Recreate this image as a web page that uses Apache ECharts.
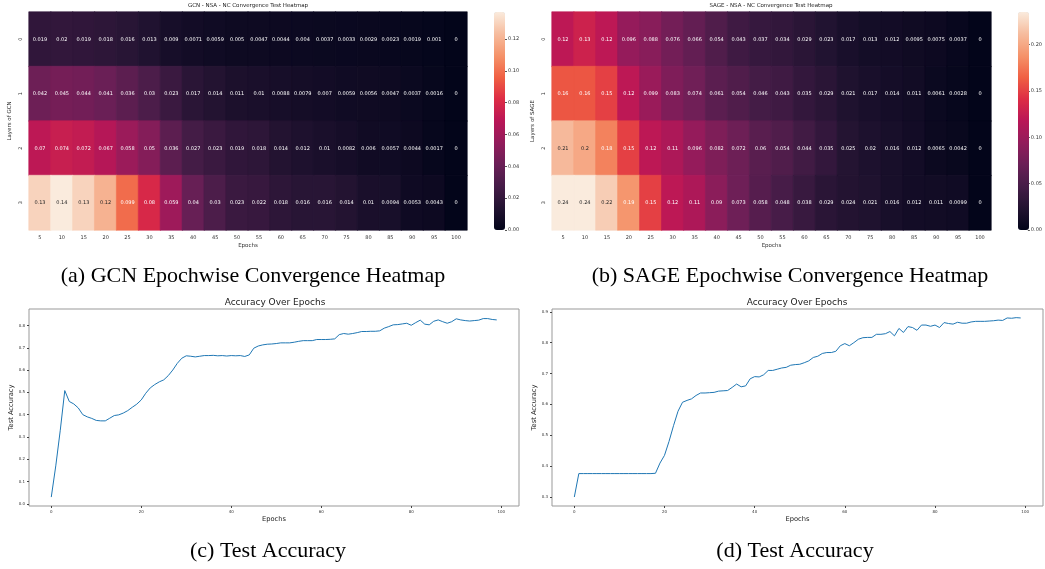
<!DOCTYPE html>
<html>
<head>
<meta charset="utf-8">
<script src="https://cdn.jsdelivr.net/npm/echarts@6/dist/echarts.min.js"></script>
<style>
  html, body { margin: 0; padding: 0; background: #fff; }
  #chart { width: 1045px; height: 569px; }
</style>
</head>
<body>
<div id="chart"></div>
<script>
// epochs on the heatmap x axis, layers on the y axis
const epochLabels = ['5','10','15','20','25','30','35','40','45','50','55','60','65','70','75','80','85','90','95','100'];
const layerLabels = ['0','1','2','3'];

// GCN convergence values, one row per layer
const gcnLayer0 = [0.019,0.02,0.019,0.018,0.016,0.013,0.009,0.0071,0.0059,0.005,0.0047,0.0044,0.004,0.0037,0.0033,0.0029,0.0023,0.0019,0.001,0];
const gcnLayer1 = [0.042,0.045,0.044,0.041,0.036,0.03,0.023,0.017,0.014,0.011,0.01,0.0088,0.0079,0.007,0.0059,0.0056,0.0047,0.0037,0.0016,0];
const gcnLayer2 = [0.07,0.074,0.072,0.067,0.058,0.05,0.036,0.027,0.023,0.019,0.018,0.014,0.012,0.01,0.0082,0.006,0.0057,0.0044,0.0017,0];
const gcnLayer3 = [0.13,0.14,0.13,0.12,0.099,0.08,0.059,0.04,0.03,0.023,0.022,0.018,0.016,0.016,0.014,0.01,0.0094,0.0053,0.0043,0];

// SAGE convergence values
const sageLayer0 = [0.12,0.13,0.12,0.096,0.088,0.076,0.066,0.054,0.043,0.037,0.034,0.029,0.023,0.017,0.013,0.012,0.0095,0.0075,0.0037,0];
const sageLayer1 = [0.16,0.16,0.15,0.12,0.099,0.083,0.074,0.061,0.054,0.046,0.043,0.035,0.029,0.021,0.017,0.014,0.011,0.0061,0.0028,0];
const sageLayer2 = [0.21,0.2,0.18,0.15,0.12,0.11,0.096,0.082,0.072,0.06,0.054,0.044,0.035,0.025,0.02,0.016,0.012,0.0065,0.0042,0];
const sageLayer3 = [0.24,0.24,0.22,0.19,0.15,0.12,0.11,0.09,0.073,0.058,0.048,0.038,0.029,0.024,0.021,0.016,0.012,0.011,0.0099,0];

// colour scale tops (colorbar)
const gcnMax = 0.137;
const sageMax = 0.235;
const gcnBarTicks = [0, 0.02, 0.04, 0.06, 0.08, 0.10, 0.12];
const sageBarTicks = [0, 0.05, 0.10, 0.15, 0.20];

// test accuracy per epoch (0..99)
const gcnAcc = [
  0.03,0.17,0.33,0.508,0.459,0.448,0.43,0.40,0.39,0.383,
  0.374,0.372,0.372,0.384,0.396,0.399,0.407,0.418,0.433,0.447,
  0.466,0.496,0.52,0.535,0.547,0.556,0.575,0.60,0.63,0.653,
  0.664,0.662,0.659,0.662,0.665,0.665,0.666,0.664,0.665,0.663,
  0.665,0.664,0.665,0.661,0.668,0.698,0.708,0.713,0.716,0.717,
  0.719,0.722,0.722,0.722,0.725,0.729,0.732,0.732,0.732,0.737,
  0.737,0.737,0.738,0.74,0.759,0.764,0.761,0.764,0.768,0.773,
  0.773,0.774,0.774,0.776,0.788,0.795,0.803,0.804,0.807,0.81,
  0.801,0.813,0.824,0.806,0.803,0.819,0.825,0.817,0.81,0.817,
  0.83,0.825,0.822,0.82,0.822,0.824,0.831,0.831,0.827,0.825
];
const sageAcc = [
  0.30,0.376,0.376,0.376,0.376,0.376,0.376,0.376,0.376,0.376,
  0.376,0.376,0.376,0.376,0.376,0.376,0.376,0.376,0.377,0.41,
  0.435,0.48,0.531,0.578,0.607,0.613,0.618,0.629,0.637,0.637,
  0.638,0.639,0.643,0.644,0.645,0.655,0.666,0.657,0.66,0.683,
  0.69,0.689,0.696,0.71,0.71,0.714,0.718,0.72,0.727,0.729,
  0.73,0.735,0.741,0.752,0.756,0.765,0.768,0.768,0.772,0.79,
  0.797,0.79,0.80,0.811,0.816,0.817,0.817,0.827,0.827,0.829,
  0.836,0.822,0.846,0.833,0.852,0.849,0.84,0.857,0.857,0.853,
  0.857,0.849,0.865,0.862,0.86,0.866,0.863,0.863,0.867,0.869,
  0.869,0.869,0.87,0.871,0.873,0.872,0.88,0.879,0.881,0.88
];
const accXTicks = [0, 20, 40, 60, 80, 100];
const gcnAccYTicks = [0, 0.1, 0.2, 0.3, 0.4, 0.5, 0.6, 0.7, 0.8];
const sageAccYTicks = [0.3, 0.4, 0.5, 0.6, 0.7, 0.8, 0.9];

const rocket = ['#03051a','#221331','#451c47','#6a1f56','#921c5b','#b91657','#dd2c45','#f06043','#f5936a','#f6bc9e','#faebdd'];

// each cell gets a border in its own colour so no seams show between cells
function cells(rows, vmax) {
  const out = [];
  rows.forEach((row, y) => {
    row.forEach((v, x) => {
      const t = Math.min(1, v / vmax);
      out.push({
        value: [x, y, v],
        itemStyle: { borderColor: echarts.color.lerp(t, rocket), borderWidth: 0.6 },
        label: { color: t > 0.83 ? '#262626' : '#ffffff' }
      });
    });
  });
  return out;
}

const font = 'DejaVu Sans';
const chart = echarts.init(document.getElementById('chart'));

function heatX(grid) {
  return {
    type: 'category', gridIndex: grid, data: epochLabels,
    name: 'Epochs', nameLocation: 'middle', nameGap: 13,
    nameTextStyle: { fontSize: 5.5, color: '#333' },
    axisLine: { show: false },
    axisTick: { show: false },
    axisLabel: { fontSize: 5, color: '#333', margin: 5 },
    splitLine: { show: false }
  };
}
function heatY(grid, name) {
  return {
    type: 'category', gridIndex: grid, data: layerLabels, inverse: true,
    name: name, nameLocation: 'middle', nameGap: 16, nameRotate: 90,
    nameTextStyle: { fontSize: 5.5, color: '#333' },
    axisLine: { show: false },
    axisTick: { show: false },
    axisLabel: { fontSize: 5, color: '#333', rotate: 90, margin: 6 },
    splitLine: { show: false }
  };
}
function barX(grid) {
  return { type: 'value', gridIndex: grid, show: false, min: 0, max: 1 };
}
function barY(grid, max, ticks) {
  return {
    type: 'value', gridIndex: grid, position: 'right', min: 0, max: max,
    axisLine: { show: false, onZero: false }, splitLine: { show: false },
    axisTick: { show: true, length: 2, customValues: ticks, lineStyle: { color: '#555' } },
    axisLabel: { fontSize: 5, color: '#333', margin: 3, customValues: ticks, formatter: v => v.toFixed(2) }
  };
}
function accX(grid) {
  return {
    type: 'value', gridIndex: grid, min: -4.95, max: 103.95,
    name: 'Epochs', nameLocation: 'middle', nameGap: 10,
    nameTextStyle: { fontSize: 6.7, color: '#222' },
    axisLine: { show: false, onZero: false }, splitLine: { show: false },
    axisTick: { show: true, length: 2, customValues: accXTicks, lineStyle: { color: '#444' } },
    axisLabel: { fontSize: 4, color: '#333', margin: 4, customValues: accXTicks }
  };
}
function accY(grid, min, max, ticks) {
  return {
    type: 'value', gridIndex: grid, min: min, max: max,
    name: 'Test Accuracy', nameLocation: 'middle', nameGap: 14, nameRotate: 90,
    nameTextStyle: { fontSize: 6.7, color: '#222' },
    axisLine: { show: false, onZero: false }, splitLine: { show: false },
    axisTick: { show: true, length: 2, customValues: ticks, lineStyle: { color: '#444' } },
    axisLabel: { fontSize: 4, color: '#333', margin: 4, customValues: ticks, formatter: v => v.toFixed(1) }
  };
}

function caption(text, x, y) {
  return {
    text: text, left: x, top: y, textAlign: 'center', padding: 0,
    textStyle: { fontFamily: 'Liberation Serif', fontSize: 22, fontWeight: 'normal', color: '#000' }
  };
}
function plotTitle(text, x, y, size) {
  return {
    text: text, left: x, top: y, textAlign: 'center', padding: 0,
    textStyle: { fontFamily: font, fontSize: size, fontWeight: 'normal', color: '#222' }
  };
}

const options = {
  animation: false,
  textStyle: { fontFamily: font },
  title: [
    plotTitle('GCN - NSA - NC Convergence Test Heatmap', 248, 3, 5.5),
    plotTitle('SAGE - NSA - NC Convergence Test Heatmap', 771, 3, 5.5),
    plotTitle('Accuracy Over Epochs', 275, 298, 9),
    plotTitle('Accuracy Over Epochs', 797, 298, 9),
    caption('(a) GCN Epochwise Convergence Heatmap', 253, 265),
    caption('(b) SAGE Epochwise Convergence Heatmap', 790, 265),
    caption('(c) Test Accuracy', 268, 540),
    caption('(d) Test Accuracy', 795, 540)
  ],
  grid: [
    { left: 29, top: 12, width: 438, height: 218 },
    { left: 552, top: 12, width: 439, height: 218 },
    { left: 494, top: 12, width: 11, height: 218 },
    { left: 1018, top: 12, width: 11, height: 218 },
    { left: 29, top: 309, width: 490, height: 197, show: true, borderColor: '#999', borderWidth: 1 },
    { left: 552, top: 309, width: 491, height: 197, show: true, borderColor: '#999', borderWidth: 1 }
  ],
  xAxis: [heatX(0), heatX(1), barX(2), barX(3), accX(4), accX(5)],
  yAxis: [
    heatY(0, 'Layers of GCN'), heatY(1, 'Layers of SAGE'),
    barY(2, gcnMax, gcnBarTicks), barY(3, sageMax, sageBarTicks),
    accY(4, -0.01, 0.874, gcnAccYTicks), accY(5, 0.271, 0.909, sageAccYTicks)
  ],
  visualMap: [
    {
      type: 'continuous', min: 0, max: gcnMax, dimension: 2, seriesIndex: 0,
      calculable: false, orient: 'vertical', left: 494, top: 12, padding: 0,
      itemWidth: 11, itemHeight: 218, inRange: { color: rocket }
    },
    {
      type: 'continuous', min: 0, max: sageMax, dimension: 2, seriesIndex: 1,
      calculable: false, orient: 'vertical', left: 1018, top: 12, padding: 0,
      itemWidth: 11, itemHeight: 218, inRange: { color: rocket }
    }
  ],
  series: [
    {
      type: 'heatmap', xAxisIndex: 0, yAxisIndex: 0,
      data: cells([gcnLayer0, gcnLayer1, gcnLayer2, gcnLayer3], gcnMax),
      label: { show: true, fontSize: 5 },
      emphasis: { disabled: true }
    },
    {
      type: 'heatmap', xAxisIndex: 1, yAxisIndex: 1,
      data: cells([sageLayer0, sageLayer1, sageLayer2, sageLayer3], sageMax),
      label: { show: true, fontSize: 5 },
      emphasis: { disabled: true }
    },
    {
      type: 'line', xAxisIndex: 4, yAxisIndex: 4, showSymbol: false,
      lineStyle: { color: '#1f77b4', width: 1 }, itemStyle: { color: '#1f77b4' },
      data: gcnAcc.map((v, i) => [i, v])
    },
    {
      type: 'line', xAxisIndex: 5, yAxisIndex: 5, showSymbol: false,
      lineStyle: { color: '#1f77b4', width: 1 }, itemStyle: { color: '#1f77b4' },
      data: sageAcc.map((v, i) => [i, v])
    }
  ]
};

chart.setOption(options);
</script>
</body>
</html>
